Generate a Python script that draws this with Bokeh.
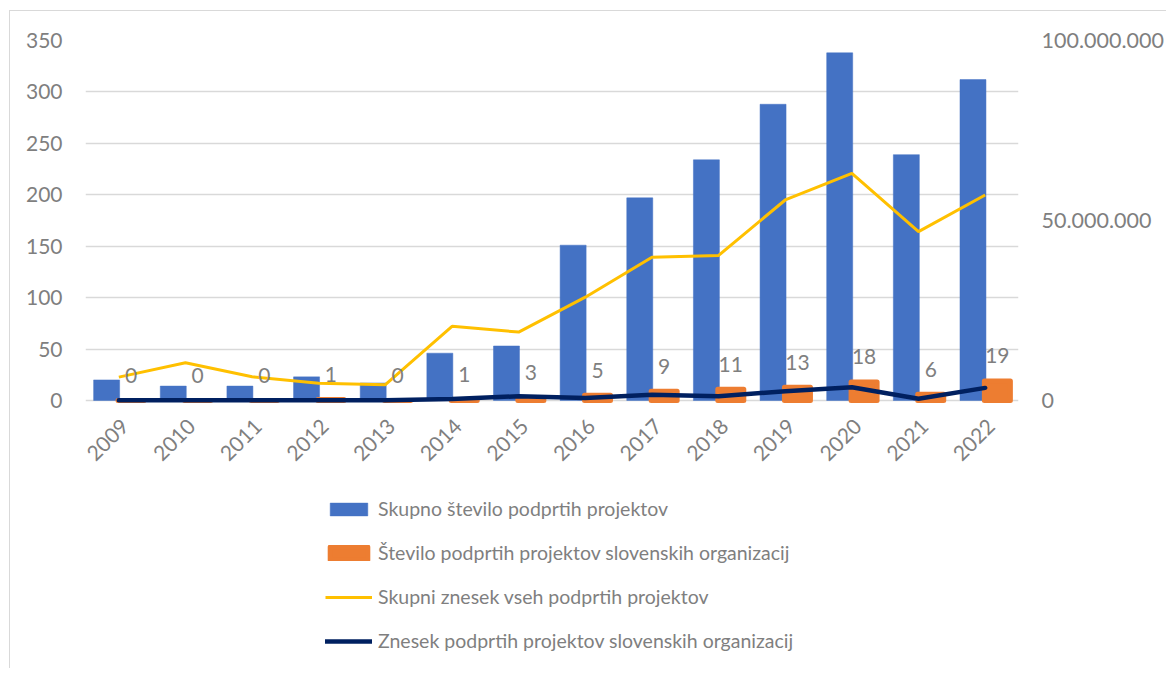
from bokeh.plotting import figure
from bokeh.models import (ColumnDataSource, Range1d, LinearAxis, FixedTicker,
                          CustomJSTickFormatter, Legend, LegendItem, LabelSet)
from bokeh.core.properties import value
from bokeh.transform import dodge
from bokeh.embed import file_html
from bokeh.resources import INLINE
import math

years = ["2009", "2010", "2011", "2012", "2013", "2014", "2015", "2016",
         "2017", "2018", "2019", "2020", "2021", "2022"]
total_projects = [20, 14, 14, 23, 17, 46, 53, 151, 197, 234, 288, 338, 239, 312]
slo_projects = [0, 0, 0, 1, 0, 1, 3, 5, 9, 11, 13, 18, 6, 19]
total_amount = [6.5e6, 10.5e6, 6.6e6, 4.8e6, 4.4e6, 20.6e6, 19.0e6, 28.7e6,
                39.8e6, 40.3e6, 55.7e6, 63.1e6, 46.9e6, 57.1e6]
slo_amount = [0.1e6, 0.1e6, 0.1e6, 0.1e6, 0.1e6, 0.4e6, 1.2e6, 0.7e6,
              1.6e6, 1.2e6, 2.6e6, 3.7e6, 0.5e6, 3.5e6]
left_ticks = [0, 50, 100, 150, 200, 250, 300, 350]
right_ticks = [0, 50_000_000, 100_000_000]

labels_names = ["Skupno število podprtih projektov",
                "Število podprtih projektov slovenskih organizacij",
                "Skupni znesek vseh podprtih projektov",
                "Znesek podprtih projektov slovenskih organizacij"]

FONT = "Lato"
GRAY = "#7f7f7f"

# plot area: 360 px for the data, plus 264 px below zero for year labels and legend
DATA_H = 360
EXTRA_H = 264
LEFT_MAX = 350
RIGHT_MAX = 100_000_000

src = ColumnDataSource(dict(year=years, total=total_projects, slo=slo_projects,
                            tamt=total_amount, samt=slo_amount,
                            lbl=[str(v) for v in slo_projects],
                            zero=[0] * len(years)))

p = figure(x_range=years,
           y_range=Range1d(-LEFT_MAX * EXTRA_H / DATA_H, LEFT_MAX),
           frame_width=933, frame_height=DATA_H + EXTRA_H,
           output_backend="svg", toolbar_location=None,
           min_border_left=75, min_border_right=145, min_border_top=29,
           min_border_bottom=4)
p.styles = {"border-left": "1.5px solid #d9d9d9", "border-top": "1.5px solid #d9d9d9",
            "margin-left": "9px", "margin-top": "10px"}
p.outline_line_color = None
p.extra_y_ranges = {"amt": Range1d(-RIGHT_MAX * EXTRA_H / DATA_H, RIGHT_MAX)}

b1 = p.vbar(x=dodge("year", -0.183, range=p.x_range), top="total", width=0.39,
            source=src, fill_color="#4472C4", line_color="#4472C4", line_width=0.5)
b2 = p.vbar(x=dodge("year", 0.183, range=p.x_range), top="slo", width=0.39,
            source=src, fill_color="#ED7D31", line_color="#ED7D31", line_width=5,
            line_join="round")
l1 = p.line(x="year", y="tamt", source=src, y_range_name="amt",
            line_color="#FFC000", line_width=3)
l2 = p.line(x="year", y="samt", source=src, y_range_name="amt",
            line_color="#002060", line_width=4.5, line_join="round", line_cap="round")

labels = LabelSet(x=dodge("year", 0.183, range=p.x_range), y="slo", text="lbl",
                  source=src, y_offset=25, text_align="center",
                  text_baseline="middle", text_font=value(FONT),
                  text_font_size=value("21px"), text_color=GRAY)
p.add_layout(labels)

# category labels (rotated 45°)
year_labels = LabelSet(x="year", y="zero", text="year", source=src,
                       angle=math.pi / 4, x_offset=6, y_offset=-22,
                       text_align="right", text_baseline="middle",
                       text_font=value(FONT), text_font_size=value("21px"),
                       text_color=GRAY)
p.add_layout(year_labels)
p.xaxis.visible = False


def style_axis(ax, standoff, size="21px"):
    ax.axis_line_color = None
    ax.major_tick_line_color = None
    ax.minor_tick_line_color = None
    ax.major_tick_out = 0
    ax.major_tick_in = 0
    ax.minor_tick_out = 0
    ax.minor_tick_in = 0
    ax.major_label_standoff = standoff
    ax.major_label_text_font = FONT
    ax.major_label_text_font_size = size
    ax.major_label_text_color = GRAY


# left axis
p.yaxis.ticker = FixedTicker(ticks=left_ticks)
style_axis(p.yaxis[0], 23)

# right axis
ra = LinearAxis(y_range_name="amt", ticker=FixedTicker(ticks=right_ticks),
                formatter=CustomJSTickFormatter(code="""
                    return Math.round(tick).toString().replace(/\\B(?=(\\d{3})+(?!\\d))/g, ".");
                """))
style_axis(ra, 23, "21.5px")
p.add_layout(ra, "right")

p.xgrid.grid_line_color = None
p.ygrid.ticker = FixedTicker(ticks=left_ticks)
p.ygrid.grid_line_color = "#d9d9d9"
p.ygrid.grid_line_width = 1.5

legend = Legend(items=[LegendItem(label=labels_names[0], renderers=[b1]),
                       LegendItem(label=labels_names[1], renderers=[b2]),
                       LegendItem(label=labels_names[2], renderers=[l1]),
                       LegendItem(label=labels_names[3], renderers=[l2])],
                location=(240, 11), orientation="vertical",
                label_text_font=FONT, label_text_font_size="19.5px",
                label_text_color=GRAY, glyph_width=47, glyph_height=16,
                label_height=25, label_standoff=6, spacing=19, margin=0,
                padding=8, border_line_color=None, background_fill_alpha=0)
p.add_layout(legend, "center")

open("out.html", "w").write(file_html(p, INLINE))
